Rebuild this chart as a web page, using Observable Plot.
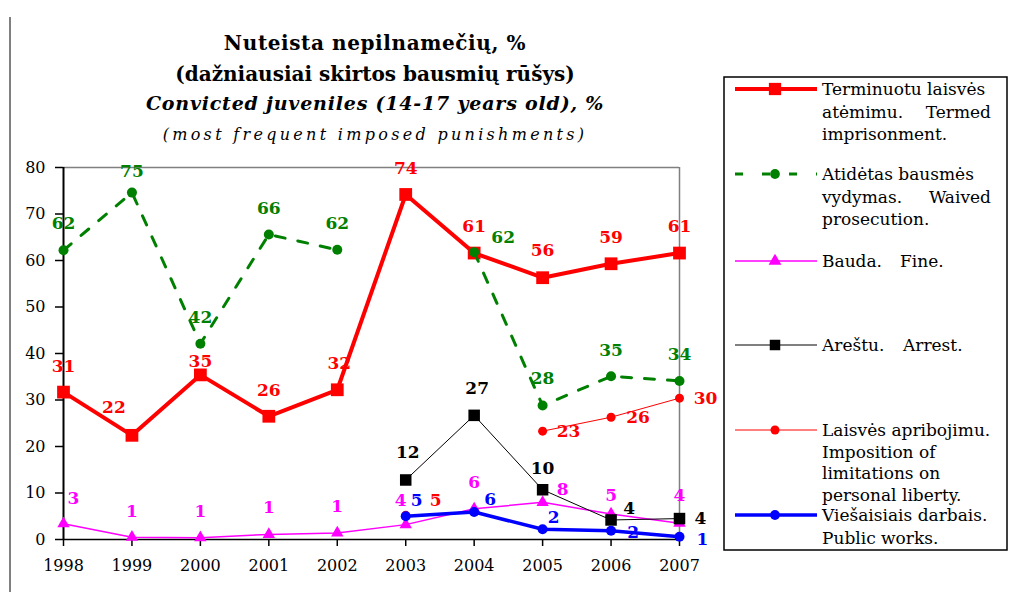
<!DOCTYPE html>
<html>
<head>
<meta charset="utf-8">
<script src="https://cdn.jsdelivr.net/npm/d3@7"></script>
<script src="https://cdn.jsdelivr.net/npm/@observablehq/plot@0.6"></script>
<style>
  html, body { margin: 0; padding: 0; background: #fff; }
  #wrap { position: relative; width: 1009px; height: 592px; overflow: hidden; }
  #wrap > svg { position: absolute; left: 0; top: 0; }
  #overlay { pointer-events: none; }
</style>
</head>
<body>
<div id="wrap"></div>
<script>
// ---- data ----
const years = [1998, 1999, 2000, 2001, 2002, 2003, 2004, 2005, 2006, 2007];

// Terminuotu laisvės atėmimu / Termed imprisonment
const termedValues = [31.7, 22.4, 35.4, 26.5, 32.2, 74.2, 61.6, 56.3, 59.3, 61.6];
const termedLabels = [31, 22, 35, 26, 32, 74, 61, 56, 59, 61];

// Atidėtas bausmės vykdymas / Waived prosecution (no value for 2003)
const waivedValues = [62.2, 74.6, 42.1, 65.6, 62.3, null, 61.8, 28.8, 35.1, 34.1];
const waivedLabels = [62, 75, 42, 66, 62, null, 62, 28, 35, 34];

// Bauda / Fine
const fineValues = [3.4, 0.5, 0.4, 1.1, 1.4, 3.2, 6.6, 8.0, 5.5, 3.5];
const fineLabels = [3, 1, 1, 1, 1, 4, 6, 8, 5, 4];

// Areštu / Arrest
const arrestYears = [2003, 2004, 2005, 2006, 2007];
const arrestValues = [12.8, 26.7, 10.7, 4.2, 4.5];
const arrestLabels = [12, 27, 10, 4, 4];

// Laisvės apribojimu / Imposition of limitations on personal liberty (no value for 2004)
const limitYears = [2003, 2004, 2005, 2006, 2007];
const limitValues = [5.2, null, 23.3, 26.3, 30.4];
const limitLabels = [5, null, 23, 26, 30];

// Viešaisiais darbais / Public works
const publicYears = [2003, 2004, 2005, 2006, 2007];
const publicValues = [5.0, 5.9, 2.2, 1.9, 0.6];
const publicLabels = [5, 6, 2, 2, 1];

const yTicks = [0, 10, 20, 30, 40, 50, 60, 70, 80];

const titleLines = [
  "Nuteista nepilnamečių, %",
  "(dažniausiai skirtos bausmių rūšys)",
  "Convicted juveniles (14-17 years old), %",
  "(most frequent imposed punishments)"
];

// ---- presentation: label placement (pixel offsets from each point), kept apart from the data ----
const labelOffsets = {
  termed: [[0,-26],[-18,-28],[0,-13],[0,-26],[2,-26],[0,-26],[0,-27],[0,-27],[0,-26],[0,-27]],
  waived: [[0,-27],[0,-21],[0,-26],[0,-26],[0,-26],[0,0],[29,-15],[0,-27],[0,-26],[0,-26]],
  fine:   [[10,-25],[0,-26],[0,-26],[0,-27],[0,-26],[-5,-24],[0,-26],[20,-13],[0,-18],[0,-28]],
  arrest: [[2,-27],[3,-27],[0,-21],[18,-11],[21,0]],
  limit:  [[30,-15],[0,0],[26,0],[27,0],[26,0]],
  pub:    [[11,-16],[16,-13],[11,-12],[22,2],[23,3]]
};

// ---- build tables ----
function rows(xs, vals, labels, offs) {
  return xs.map((x, i) => ({
    year: x,
    value: vals[i] == null ? NaN : vals[i],
    label: labels[i] == null ? "" : String(labels[i]),
    dx: offs[i][0], dy: offs[i][1]
  }));
}
const termed = rows(years, termedValues, termedLabels, labelOffsets.termed);
const waived = rows(years, waivedValues, waivedLabels, labelOffsets.waived);
const fine = rows(years, fineValues, fineLabels, labelOffsets.fine);
const arrest = rows(arrestYears, arrestValues, arrestLabels, labelOffsets.arrest);
const limit = rows(limitYears, limitValues, limitLabels, labelOffsets.limit);
const pub = rows(publicYears, publicValues, publicLabels, labelOffsets.pub);

const RED = "#ff0000", GREEN = "#008000", MAGENTA = "#ff00ff", BLACK = "#000000", BLUE = "#0000ff";
const def = d => !isNaN(d.value);

function labels(data, color) {
  return data.filter(def).map(d => Plot.text([d], {
    x: "year", y: "value", text: "label", dx: d.dx, dy: d.dy, fill: color,
    fontSize: 17, fontWeight: "bold", fontFamily: "DejaVu Serif"
  }));
}

const chart = Plot.plot({
  width: 1009,
  height: 592,
  marginLeft: 63,
  marginRight: 330,
  marginTop: 167,
  marginBottom: 53,
  style: { fontFamily: "DejaVu Serif", fontSize: "16px", color: "#000", background: "transparent" },
  x: { type: "linear", domain: [1998, 2007] },
  y: { domain: [0, 80] },
  marks: [
    Plot.ruleY([80], { stroke: "#808080", strokeWidth: 1.5 }),
    Plot.ruleX([2007], { stroke: "#808080", strokeWidth: 1.5 }),
    Plot.axisY({ ticks: yTicks, tickSize: 8, tickPadding: 10, label: null, strokeWidth: 1.5, fontSize: 16 }),
    Plot.axisX({ ticks: years, tickFormat: "d", tickSize: 7, tickPadding: 13, label: null, strokeWidth: 1.5, fontSize: 16 }),
    Plot.ruleY([0], { stroke: BLACK, strokeWidth: 1.5 }),
    Plot.ruleX([1998], { stroke: BLACK, strokeWidth: 2 }),

    Plot.line(termed, { x: "year", y: "value", stroke: RED, strokeWidth: 4 }),
    Plot.dot(termed, { x: "year", y: "value", symbol: "square", r: 7.2, fill: RED }),

    Plot.line(waived, { x: "year", y: "value", stroke: GREEN, strokeWidth: 3, strokeDasharray: "10,13" }),
    Plot.dot(waived.filter(def), { x: "year", y: "value", r: 5, fill: GREEN }),

    Plot.line(fine, { x: "year", y: "value", stroke: MAGENTA, strokeWidth: 1.5 }),
    Plot.dot(fine, { x: "year", y: "value", symbol: "triangle", r: 4.6, fill: MAGENTA }),

    Plot.line(arrest, { x: "year", y: "value", stroke: BLACK, strokeWidth: 1 }),
    Plot.dot(arrest, { x: "year", y: "value", symbol: "square", r: 6.5, fill: BLACK }),

    Plot.line(limit, { x: "year", y: "value", stroke: RED, strokeWidth: 1 }),
    Plot.dot(limit.filter(def), { x: "year", y: "value", r: 4.5, fill: RED }),

    Plot.line(pub, { x: "year", y: "value", stroke: BLUE, strokeWidth: 3.5 }),
    Plot.dot(pub, { x: "year", y: "value", r: 5, fill: BLUE }),

    ...labels(termed, RED),
    ...labels(waived, GREEN),
    ...labels(fine, MAGENTA),
    ...labels(arrest, BLACK),
    ...labels(limit, RED),
    ...labels(pub, BLUE)
  ]
});
document.getElementById("wrap").appendChild(chart);

// ---- overlay: frame line, titles, legend ----
const svg = d3.select("#wrap").append("svg")
  .attr("id", "overlay").attr("width", 1009).attr("height", 592)
  .style("font-family", "DejaVu Serif");

svg.append("line").attr("x1", 10).attr("x2", 10).attr("y1", 17).attr("y2", 592)
  .attr("stroke", "#000").attr("stroke-width", 1);

const titleStyles = [
  { y: 50, size: 20, weight: "bold", style: "normal", ls: 0.6 },
  { y: 81, size: 20, weight: "bold", style: "normal", ls: 0 },
  { y: 110, size: 19, weight: "bold", style: "italic", ls: 0.8 },
  { y: 140, size: 16, weight: "normal", style: "italic", ls: 3.3 }
];
titleLines.forEach((t, i) => {
  const s = titleStyles[i];
  svg.append("text").attr("x", 375).attr("y", s.y).attr("text-anchor", "middle")
    .style("font-size", s.size + "px").style("font-weight", s.weight).style("font-style", s.style)
    .style("letter-spacing", s.ls + "px").text(t);
});

// legend box
svg.append("rect").attr("x", 724).attr("y", 77).attr("width", 283).attr("height", 473)
  .attr("fill", "none").attr("stroke", "#000").attr("stroke-width", 1.5);

const legend = [
  { y: 89, color: RED, width: 4, dash: null, symbol: d3.symbolSquare, size: 150, lh: 22.5,
    lines: [["Terminuotu laisvės"], ["atėmimu.", "Termed"], ["imprisonment."]] },
  { y: 174, color: GREEN, width: 3, dash: "8,19", symbol: d3.symbolCircle, size: 75, lh: 22.5,
    lines: [["Atidėtas bausmės"], ["vydymas.", "Waived"], ["prosecution."]] },
  { y: 261, color: MAGENTA, width: 1.5, dash: null, symbol: d3.symbolTriangle, size: 70, lh: 22.5,
    lines: [["Bauda.", "Fine.", 900]] },
  { y: 345, color: BLACK, width: 1, dash: null, symbol: d3.symbolSquare, size: 110, lh: 22.5,
    lines: [["Areštu.", "Arrest.", 903]] },
  { y: 430, color: RED, width: 1, dash: null, symbol: d3.symbolCircle, size: 64, lh: 21.5,
    lines: [["Laisvės apribojimu."], ["Imposition of"], ["limitations on"], ["personal liberty."]] },
  { y: 515, color: BLUE, width: 3.5, dash: null, symbol: d3.symbolCircle, size: 75, lh: 22.5,
    lines: [["Viešaisiais darbais."], ["Public works."]] }
];
legend.forEach(e => {
  const ln = svg.append("line").attr("x1", 735).attr("x2", 817).attr("y1", e.y).attr("y2", e.y)
    .attr("stroke", e.color).attr("stroke-width", e.width);
  if (e.dash) ln.attr("stroke-dasharray", e.dash);
  svg.append("path").attr("d", d3.symbol(e.symbol, e.size)()).attr("transform", `translate(775,${e.y})`)
    .attr("fill", e.color);
  e.lines.forEach((parts, i) => {
    const by = e.y + 6 + i * e.lh;
    svg.append("text").attr("x", 822).attr("y", by).style("font-size", "17px").text(parts[0]);
    if (parts[1]) {
      const t = svg.append("text").attr("y", by).style("font-size", "17px").text(parts[1]);
      if (parts[2]) t.attr("x", parts[2]);
      else t.attr("x", 991).attr("text-anchor", "end");
    }
  });
});
</script>
</body>
</html>
